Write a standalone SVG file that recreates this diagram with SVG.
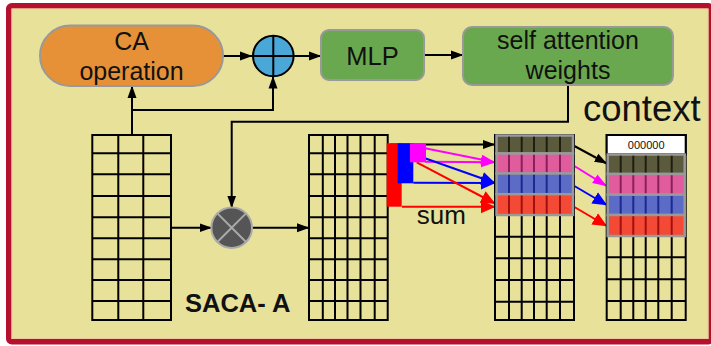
<svg xmlns="http://www.w3.org/2000/svg" width="711" height="346" viewBox="0 0 711 346">
<defs>
<style>
.t{font-family:"Liberation Sans",Arial,sans-serif;fill:#111;}
.g{fill:none;stroke:#000;stroke-width:2;}
.c{fill:none;stroke:#000;stroke-width:2;}
.row{stroke:#999;stroke-width:2.5;}
</style>
<marker id="ak" markerUnits="userSpaceOnUse" markerWidth="13" markerHeight="10" refX="12" refY="5" orient="auto"><path d="M0,0.5 L12.5,5 L0,9.5 z" fill="#000"/></marker>
<marker id="am" markerUnits="userSpaceOnUse" markerWidth="15" markerHeight="12" refX="14" refY="6" orient="auto"><path d="M0,1 L14.5,6 L0,11 z" fill="#ff00ff"/></marker>
<marker id="ab" markerUnits="userSpaceOnUse" markerWidth="15" markerHeight="14" refX="14" refY="7" orient="auto"><path d="M0,0.5 L14.5,7 L0,13.5 z" fill="#0000ff"/></marker>
<marker id="ar" markerUnits="userSpaceOnUse" markerWidth="15" markerHeight="14" refX="14" refY="7" orient="auto"><path d="M0,0.5 L14.5,7 L0,13.5 z" fill="#ff0000"/></marker>
</defs>

<g id="frame">
<rect x="8.75" y="5.75" width="702.5" height="336" rx="3" fill="#e8e19a" stroke="#b5102e" stroke-width="5.5"/>
<rect x="12" y="9" width="696" height="329.5" fill="none" stroke="#f0c8a0" stroke-width="1"/>
</g>

<g id="connectors">
<path class="c" d="M223,56 H252" marker-end="url(#ak)"/>
<path class="c" d="M294,56 H321" marker-end="url(#ak)"/>
<path class="c" d="M424,55 H463" marker-end="url(#ak)"/>
<path class="c" d="M132,135 V86" marker-end="url(#ak)"/>
<path class="c" d="M132,110 H273 V76.5" marker-end="url(#ak)"/>
<path class="c" d="M568,85 V121.7 H231.7 V207.5" marker-end="url(#ak)"/>
<path class="c" d="M171,227.7 H211.5" marker-end="url(#ak)"/>
<path class="c" d="M252.5,227.7 H309" marker-end="url(#ak)"/>
<path class="c" d="M390,144.5 H495" marker-end="url(#ak)"/>
<path fill="none" stroke="#ff00ff" stroke-width="2" d="M425,148.3 L495,162.3" marker-end="url(#am)"/>
<path fill="none" stroke="#ff00ff" stroke-width="2" d="M425,161.7 L495,162.3" marker-end="url(#am)"/>
<path fill="none" stroke="#0000ff" stroke-width="2" d="M425,158.3 L495,183" marker-end="url(#ab)"/>
<path fill="none" stroke="#0000ff" stroke-width="2" d="M413.3,182.7 L495,183" marker-end="url(#ab)"/>
<path fill="none" stroke="#ff0000" stroke-width="2" d="M416.7,162.3 L495,203.5" marker-end="url(#ar)"/>
<path fill="none" stroke="#ff0000" stroke-width="2" d="M402,206.7 L495,206.7" marker-end="url(#ar)"/>
<path class="c" d="M572.5,145 L606.7,163.5" marker-end="url(#ak)"/>
<path fill="none" stroke="#ff00ff" stroke-width="2" d="M572.7,165 L606.7,186" marker-end="url(#am)"/>
<path fill="none" stroke="#0000ff" stroke-width="2" d="M572.7,185 L606.7,205" marker-end="url(#ab)"/>
<path fill="none" stroke="#ff0000" stroke-width="2" d="M572.7,206 L606.7,226" marker-end="url(#ar)"/>
</g>

<g id="ca-operation">
<rect x="40" y="25.5" width="183" height="60.5" rx="30.25" fill="#e69138" stroke="#999" stroke-width="2"/>
<text class="t" x="131.5" y="50" font-size="25" text-anchor="middle">CA</text>
<text class="t" x="131.5" y="80" font-size="25" text-anchor="middle">operation</text>
</g>

<g id="plus">
<circle cx="273.3" cy="56" r="20.3" fill="#4aa8d8" stroke="#000" stroke-width="2"/>
<path d="M273.3,35.7 V76.3 M253,56 H293.6" stroke="#000" stroke-width="2"/>
</g>

<g id="mlp">
<rect x="321" y="30" width="103" height="50" rx="8" fill="#6aa84f" stroke="#999" stroke-width="2"/>
<text class="t" x="372.5" y="64.5" font-size="25.5" text-anchor="middle">MLP</text>
</g>

<g id="self-attention">
<rect x="463" y="27" width="210" height="58" rx="9" fill="#6aa84f" stroke="#999" stroke-width="2"/>
<text class="t" x="568" y="49" font-size="25" text-anchor="middle">self attention</text>
<text class="t" x="568" y="79" font-size="25" text-anchor="middle">weights</text>
</g>

<g id="context-label">
<text class="t" x="583" y="121" font-size="36.5">context</text>
</g>

<g id="multiply">
<circle cx="231.7" cy="227.7" r="20.3" fill="#555" stroke="#aaa" stroke-width="2"/>
<path d="M217.4,213.4 L246,242 M246,213.4 L217.4,242" stroke="#aaa" stroke-width="2"/>
</g>

<g id="matrix-input">
<rect class="g" x="92.3" y="135" width="78.7" height="185"/>
<path class="g" d="M118.3,135 V320 M143.3,135 V320 M92.3,153.3 H171 M92.3,174.3 H171 M92.3,196 H171 M92.3,217.3 H171 M92.3,238.3 H171 M92.3,259.3 H171 M92.3,280 H171 M92.3,301 H171"/>
</g>

<g id="matrix-weighted">
<rect class="g" x="309" y="135" width="78.7" height="185"/>
<path class="g" d="M322.8,135 V320 M335,135 V320 M347.5,135 V320 M360.5,135 V320 M374.7,135 V320 M309,153.3 H387.7 M309,174.3 H387.7 M309,196 H387.7 M309,217.3 H387.7 M309,238.3 H387.7 M309,259.3 H387.7 M309,280 H387.7 M309,301 H387.7"/>
</g>

<g id="sum-bars">
<rect x="386.7" y="143.3" width="15" height="63.4" fill="#ff0000"/>
<rect x="397.7" y="143.3" width="15.6" height="40" fill="#0000ff"/>
<rect x="410" y="143.3" width="16" height="19" fill="#ff00ff"/>
<text class="t" x="416.7" y="224" font-size="26">sum</text>
</g>

<g id="matrix-sum">
<rect class="g" x="495" y="135" width="79" height="185"/>
<path class="g" d="M509,215 V320 M521.7,215 V320 M534,215 V320 M546.7,215 V320 M560,215 V320 M495,236.7 H574 M495,258.3 H574 M495,280 H574 M495,301.7 H574"/>
<rect class="row" x="496.5" y="135.5" width="76.5" height="18" fill="#5c5a3d"/>
<path d="M509,136.8 V152.2 M521.7,136.8 V152.2 M534,136.8 V152.2 M546.7,136.8 V152.2 M560,136.8 V152.2" stroke="#1e1e12" stroke-width="2"/>
<rect class="row" x="496.5" y="153.5" width="76.5" height="20" fill="#e05c9c"/>
<path d="M509,154.8 V172.2 M521.7,154.8 V172.2 M534,154.8 V172.2 M546.7,154.8 V172.2 M560,154.8 V172.2" stroke="#8b1f5b" stroke-width="2"/>
<rect class="row" x="496.5" y="173.5" width="76.5" height="20.7" fill="#5b6bc6"/>
<path d="M509,174.8 V193 M521.7,174.8 V193 M534,174.8 V193 M546.7,174.8 V193 M560,174.8 V193" stroke="#1a2a90" stroke-width="2"/>
<rect class="row" x="496.5" y="194.2" width="76.5" height="20.8" fill="#f44a35"/>
<path d="M509,195.5 V213.8 M521.7,195.5 V213.8 M534,195.5 V213.8 M546.7,195.5 V213.8 M560,195.5 V213.8" stroke="#a01010" stroke-width="2"/>
</g>

<g id="matrix-context">
<rect class="g" x="606.7" y="135" width="79" height="185"/>
<path class="g" d="M620.7,236 V320 M633.3,236 V320 M645.7,236 V320 M658.3,236 V320 M671.7,236 V320 M606.7,257.3 H685.7 M606.7,279.3 H685.7 M606.7,301 H685.7"/>
<rect x="606.7" y="135" width="79" height="19.3" fill="#fff" stroke="#000" stroke-width="2"/>
<text class="t" x="646.2" y="148.5" font-size="11" fill="#333" text-anchor="middle">000000</text>
<rect class="row" x="607.7" y="154.5" width="77" height="19.5" fill="#5c5a3d"/>
<path d="M620.7,155.8 V172.8 M633.3,155.8 V172.8 M645.7,155.8 V172.8 M658.3,155.8 V172.8 M671.7,155.8 V172.8" stroke="#1e1e12" stroke-width="2"/>
<rect class="row" x="607.7" y="174" width="77" height="20.7" fill="#e05c9c"/>
<path d="M620.7,175.3 V193.4 M633.3,175.3 V193.4 M645.7,175.3 V193.4 M658.3,175.3 V193.4 M671.7,175.3 V193.4" stroke="#8b1f5b" stroke-width="2"/>
<rect class="row" x="607.7" y="194.7" width="77" height="20.3" fill="#5b6bc6"/>
<path d="M620.7,196 V213.7 M633.3,196 V213.7 M645.7,196 V213.7 M658.3,196 V213.7 M671.7,196 V213.7" stroke="#1a2a90" stroke-width="2"/>
<rect class="row" x="607.7" y="215" width="77" height="21" fill="#f44a35"/>
<path d="M620.7,216.3 V234.7 M633.3,216.3 V234.7 M645.7,216.3 V234.7 M658.3,216.3 V234.7 M671.7,216.3 V234.7" stroke="#a01010" stroke-width="2"/>
</g>

<g id="label-saca">
<text class="t" x="185" y="311.5" font-size="25.5" font-weight="bold">SACA- A</text>
</g>
</svg>
